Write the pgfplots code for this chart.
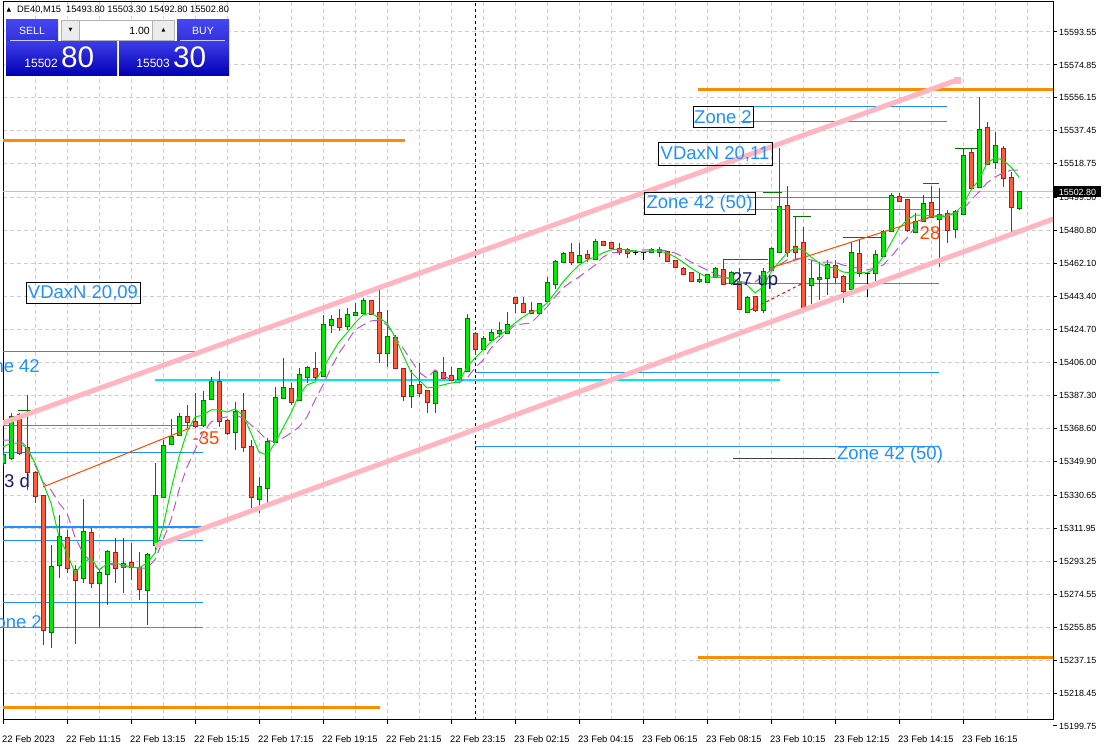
\documentclass[border=0pt]{standalone}
\usepackage{pgfplots}
\pgfplotsset{compat=1.18}
\usepackage{pgfplotstable}
\usepackage{fontspec}
\setmainfont{Liberation Sans}
\newfontfamily\dejavu{DejaVu Sans}
\definecolor{bullbody}{RGB}{0,235,0}
\definecolor{bulledge}{RGB}{0,120,0}
\definecolor{bearbody}{RGB}{255,90,60}
\definecolor{bearedge}{RGB}{170,30,30}
\definecolor{gridc}{RGB}{205,205,205}
\definecolor{zone}{RGB}{30,144,255}
\definecolor{orangeL}{RGB}{255,140,0}
\definecolor{pinkL}{RGB}{255,182,193}
\definecolor{maG}{RGB}{0,230,0}
\definecolor{maP}{RGB}{186,85,211}
\definecolor{navyT}{RGB}{25,25,112}
\definecolor{orT}{RGB}{255,69,0}
\definecolor{cyanL}{RGB}{0,230,240}
\definecolor{bidc}{RGB}{195,195,195}
\definecolor{panTop}{RGB}{70,70,240}
\definecolor{panBot}{RGB}{0,0,180}
\newcommand{\fs}{\fontsize{8.9}{10}\selectfont}
\newcommand{\fx}{\fontsize{9.4}{10}\selectfont}
\newcommand{\fb}{\fontsize{18.5}{20}\selectfont}

\pgfplotstableread{
i O H L C
0 15349.0 15356.4 15347.9 15353.5
1 15351.8 15377.4 15350.7 15375.1
2 15376.2 15377.4 15353.5 15354.7
3 15357.5 15387.6 15333.7 15343.9
4 15343.3 15344.5 15326.3 15330.3
5 15330.3 15330.8 15245.7 15254.2
6 15253.1 15302.5 15244.0 15290.0
7 15291.1 15319.5 15283.7 15307.0
8 15306.4 15311.0 15286.6 15289.4
9 15288.3 15291.1 15246.3 15282.6
10 15283.7 15328.6 15280.9 15309.8
11 15309.3 15312.1 15278.1 15280.9
12 15280.9 15288.9 15255.9 15286.6
13 15286.0 15299.6 15268.4 15298.5
14 15297.9 15306.4 15280.9 15289.4
15 15290.0 15306.4 15275.2 15291.7
16 15292.3 15303.6 15282.6 15290.0
17 15289.4 15298.5 15271.3 15277.5
18 15276.9 15297.9 15257.1 15296.8
19 15302.5 15349.0 15297.9 15330.3
20 15329.7 15362.0 15329.1 15358.6
21 15359.8 15374.0 15359.2 15363.8
22 15364.9 15377.4 15364.3 15375.1
23 15375.1 15381.9 15368.9 15372.3
24 15372.3 15388.7 15368.9 15370.0
25 15370.6 15389.8 15369.4 15384.2
26 15385.3 15397.8 15384.7 15395.0
27 15395.0 15401.2 15369.4 15372.8
28 15372.8 15374.0 15364.9 15366.0
29 15366.6 15383.6 15356.4 15377.9
30 15378.5 15388.7 15355.2 15358.1
31 15358.1 15362.0 15323.5 15329.7
32 15328.6 15341.1 15320.6 15335.4
33 15334.8 15363.2 15325.2 15360.9
34 15360.9 15392.1 15360.3 15385.9
35 15385.9 15408.6 15385.3 15391.6
36 15391.0 15394.4 15381.9 15383.6
37 15384.7 15402.9 15384.2 15398.9
38 15397.8 15404.0 15394.4 15402.9
39 15402.3 15412.0 15396.1 15397.8
40 15398.4 15433.0 15397.8 15427.3
41 15427.3 15433.0 15422.8 15430.1
42 15430.7 15436.4 15423.9 15426.2
43 15426.7 15436.9 15424.5 15433.0
44 15433.0 15439.8 15432.4 15434.1
45 15434.1 15442.6 15433.5 15440.9
46 15440.9 15441.5 15433.0 15433.5
47 15434.1 15449.4 15405.7 15411.4
48 15411.4 15435.8 15403.5 15420.5
49 15419.9 15421.6 15402.3 15402.9
50 15402.3 15402.9 15384.2 15387.0
51 15387.0 15401.8 15380.2 15392.7
52 15393.3 15405.7 15386.4 15388.7
53 15389.8 15390.4 15377.4 15383.6
54 15383.0 15401.8 15377.4 15400.6
55 15400.1 15409.1 15396.7 15397.2
56 15398.4 15403.5 15395.5 15396.1
57 15396.7 15402.9 15396.1 15402.3
58 15401.2 15433.5 15400.6 15430.7
59 15422.2 15423.3 15410.3 15413.7
60 15413.7 15421.1 15413.1 15419.4
61 15418.8 15425.0 15418.2 15422.8
62 15422.8 15429.0 15420.5 15423.9
63 15422.8 15434.7 15422.2 15427.3
64 15442.6 15443.2 15434.1 15439.8
65 15439.2 15443.2 15434.1 15434.7
66 15435.2 15440.4 15433.5 15434.1
67 15434.1 15439.8 15433.0 15439.2
68 15440.9 15454.5 15439.8 15451.1
69 15450.6 15464.2 15447.7 15463.0
70 15463.0 15468.7 15462.5 15467.6
71 15468.2 15473.8 15461.3 15463.0
72 15463.0 15473.8 15462.5 15466.5
73 15467.0 15469.9 15463.0 15465.3
74 15464.7 15476.1 15464.2 15474.4
75 15474.4 15475.0 15472.1 15472.7
76 15473.8 15474.4 15470.4 15471.0
77 15470.4 15473.8 15467.0 15468.7
78 15469.9 15471.0 15465.3 15468.2
79 15468.7 15469.9 15467.0 15468.6
80 15468.2 15468.4 15464.2 15468.1
81 15468.7 15471.0 15468.2 15469.9
82 15468.7 15471.6 15465.9 15469.9
83 15468.7 15469.3 15463.0 15463.6
84 15463.6 15464.2 15459.6 15460.2
85 15459.1 15460.2 15455.7 15456.2
86 15456.8 15457.4 15451.7 15452.3
87 15452.3 15456.8 15451.1 15452.8
88 15451.7 15456.2 15451.1 15455.7
89 15454.5 15460.2 15454.0 15459.1
90 15458.5 15464.2 15450.0 15450.6
91 15451.1 15457.9 15450.0 15456.8
92 15451.7 15459.6 15435.8 15436.4
93 15434.7 15443.8 15434.1 15442.6
94 15443.2 15443.8 15434.7 15435.8
95 15435.8 15459.6 15434.1 15457.4
96 15458.5 15471.6 15457.9 15470.4
97 15468.7 15527.7 15468.2 15494.3
98 15494.8 15506.2 15465.9 15468.7
99 15471.6 15488.6 15464.2 15468.7
100 15473.8 15482.9 15435.2 15435.8
101 15450.0 15464.2 15439.2 15453.4
102 15453.4 15463.0 15441.5 15454.0
103 15454.0 15464.2 15444.3 15461.3
104 15460.8 15464.2 15451.1 15454.5
105 15454.5 15455.7 15439.8 15446.6
106 15447.7 15474.4 15447.2 15468.2
107 15467.6 15475.5 15454.5 15456.8
108 15456.8 15457.4 15443.2 15456.7
109 15456.8 15469.9 15451.1 15467.0
110 15466.5 15481.2 15465.9 15480.1
111 15480.6 15502.2 15480.1 15500.5
112 15499.9 15502.2 15497.1 15497.7
113 15498.2 15498.8 15480.1 15481.2
114 15480.1 15490.9 15479.5 15485.7
115 15486.3 15501.1 15485.7 15496.0
116 15496.5 15506.2 15488.0 15488.6
117 15487.4 15505.0 15460.2 15489.7
118 15490.3 15492.6 15473.8 15481.2
119 15481.8 15492.6 15476.7 15491.4
120 15490.3 15527.7 15489.7 15523.2
121 15524.9 15527.7 15504.5 15505.0
122 15505.6 15556.7 15505.0 15537.9
123 15539.1 15542.5 15518.1 15518.7
124 15519.8 15536.8 15515.8 15528.9
125 15527.2 15528.9 15505.6 15510.7
126 15510.7 15514.1 15479.5 15494.3
127 15493.8 15503.3 15492.8 15502.8
}\candles

\pgfplotstableread{
i G P
0 15358.1 15362.0
1 15360.3 15362.0
2 15360.3 15362.0
3 15357.5 15358.1
4 15349.0 15347.9
5 15337.7 15338.2
6 15326.3 15333.7
7 15307.0 15326.3
8 15297.9 15320.6
9 15286.6 15307.0
10 15292.3 15297.9
11 15295.1 15292.8
12 15288.3 15288.3
13 15291.7 15291.7
14 15292.3 15291.1
15 15291.1 15290.0
16 15290.0 15290.0
17 15289.4 15289.4
18 15292.3 15289.4
19 15297.9 15294.0
20 15312.7 15305.3
21 15333.7 15316.7
22 15352.4 15333.7
23 15366.6 15346.7
24 15375.1 15356.4
25 15376.2 15366.0
26 15379.1 15372.3
27 15379.1 15374.5
28 15377.9 15375.1
29 15379.6 15376.2
30 15376.2 15374.5
31 15366.0 15370.6
32 15355.2 15366.6
33 15353.5 15362.0
34 15360.3 15360.9
35 15368.9 15363.2
36 15377.4 15366.0
37 15387.6 15369.4
38 15393.3 15375.1
39 15395.0 15384.7
40 15402.9 15393.3
41 15410.3 15402.9
42 15417.7 15411.4
43 15422.8 15417.7
44 15428.4 15424.5
45 15433.0 15427.3
46 15434.1 15429.6
47 15431.3 15430.1
48 15428.4 15427.3
49 15420.5 15420.5
50 15410.3 15414.2
51 15400.6 15407.4
52 15396.1 15400.6
53 15391.6 15397.2
54 15392.1 15401.8
55 15393.3 15398.9
56 15394.4 15396.1
57 15395.0 15394.4
58 15403.5 15397.2
59 15408.6 15402.9
60 15413.1 15407.4
61 15417.7 15414.2
62 15421.1 15418.8
63 15424.5 15423.3
64 15428.4 15427.3
65 15431.8 15427.9
66 15434.7 15428.4
67 15435.8 15433.0
68 15439.8 15437.5
69 15445.5 15443.2
70 15451.7 15448.3
71 15456.8 15451.7
72 15461.3 15454.5
73 15464.2 15457.9
74 15465.9 15461.3
75 15468.2 15465.9
76 15469.9 15468.2
77 15470.4 15468.7
78 15469.9 15468.7
79 15469.3 15469.3
80 15468.7 15469.9
81 15469.3 15469.9
82 15469.3 15469.9
83 15468.2 15469.3
84 15465.9 15468.2
85 15463.0 15465.9
86 15459.6 15463.0
87 15456.8 15460.8
88 15454.5 15458.5
89 15454.5 15456.2
90 15454.0 15454.5
91 15454.0 15453.4
92 15451.7 15452.3
93 15450.0 15451.1
94 15445.5 15451.7
95 15448.9 15455.1
96 15457.4 15458.5
97 15463.0 15461.3
98 15468.2 15464.2
99 15471.0 15464.7
100 15469.9 15465.3
101 15465.9 15464.2
102 15462.5 15463.0
103 15460.2 15463.0
104 15459.6 15463.0
105 15457.4 15461.3
106 15456.8 15460.2
107 15457.4 15459.6
108 15456.8 15458.5
109 15459.6 15459.6
110 15465.9 15461.3
111 15473.8 15465.9
112 15482.3 15471.6
113 15486.9 15476.7
114 15489.7 15482.9
115 15489.7 15486.9
116 15489.1 15488.6
117 15488.6 15489.7
118 15489.1 15489.7
119 15490.8 15490.8
120 15495.4 15492.6
121 15503.9 15498.2
122 15509.6 15502.8
123 15519.2 15507.9
124 15522.1 15511.3
125 15520.9 15513.5
126 15516.9 15515.2
127 15511.3 15515.2
}\mas

\begin{document}
\begin{tikzpicture}
\useasboundingbox (0,0) rectangle (1104pt,749pt);
\begin{axis}[
  at={(3pt,29pt)}, anchor=south west,
  width=1050pt, height=718pt, scale only axis,
  xmin=0, xmax=131.25, ymin=15203.17, ymax=15610.57,
  clip mode=individual,
  axis line style={black, line width=1pt},
  xtick={0,8,...,120},
  xticklabels={22 Feb 2023,22 Feb 11:15,22 Feb 13:15,22 Feb 15:15,22 Feb 17:15,22 Feb 19:15,22 Feb 21:15,22 Feb 23:15,23 Feb 02:15,23 Feb 04:15,23 Feb 06:15,23 Feb 08:15,23 Feb 10:15,23 Feb 12:15,23 Feb 14:15,23 Feb 16:15},
  minor xtick={4,12,...,124,128},
  ytick={15218.45,15237.15,15255.85,15274.55,15293.25,15311.95,15330.65,15349.90,15368.60,15387.30,15406.00,15424.70,15443.40,15462.10,15480.80,15499.50,15518.75,15537.45,15556.15,15574.85,15593.55},
  yticklabels={15218.45,15237.15,15255.85,15274.55,15293.25,15311.95,15330.65,15349.90,15368.60,15387.30,15406.00,15424.70,15443.40,15462.10,15480.80,15499.50,15518.75,15537.45,15556.15,15574.85,15593.55},
  xmajorgrids, xminorgrids, ymajorgrids,
  major grid style={gridc, line width=1pt, dash pattern=on 4pt off 3pt},
  minor grid style={gridc, line width=1pt, dash pattern=on 4pt off 3pt},
  xtick pos=left, ytick pos=right, yticklabel pos=right,
  tick align=outside, major tick length=4pt, minor tick length=0pt,
  tick style={black, line width=1pt},
  ticklabel style={font=\fs, inner sep=0pt, text=black},
  yticklabel style={anchor=west, xshift=2pt},
  xticklabel style={font=\fx, anchor=north west, xshift=-1pt, yshift=-11pt},
]
% bid line
\addplot[no marks, bidc, line width=1pt] coordinates {(-1,15502.8) (132,15502.8)};
% period separator
\addplot[no marks, black, line width=1pt, dash pattern=on 3pt off 3pt] coordinates {(59,15203.17) (59,15610.57)};
% orange levels
\addplot[no marks, orangeL, line width=3pt] coordinates {(-1,15531.7) (50.25,15531.7)};
\addplot[no marks, orangeL, line width=3pt] coordinates {(86.9,15561.2) (132,15561.2)};
\addplot[no marks, orangeL, line width=3pt] coordinates {(86.9,15238.9) (132,15238.9)};
\addplot[no marks, orangeL, line width=3pt] coordinates {(-1,15210.0) (47.1,15210.0)};
% zone lines left
\addplot[no marks, zone, line width=1pt] coordinates {(-1,15412.5) (25,15412.5)};
\addplot[no marks, zone, line width=1pt] coordinates {(-1,15370.0) (25,15370.0)};
\addplot[no marks, zone, line width=1pt] coordinates {(-1,15355.2) (25,15355.2)};
\addplot[no marks, zone, line width=2pt] coordinates {(-1,15312.7) (25,15312.7)};
\addplot[no marks, zone, line width=1pt] coordinates {(-1,15305.3) (25,15305.3)};
\addplot[no marks, zone, line width=1pt] coordinates {(-1,15270.1) (25,15270.1)};
\addplot[no marks, gray, line width=1pt] coordinates {(-1,15255.9) (25,15255.9)};
% cyan line
\addplot[no marks, cyanL, line width=2pt] coordinates {(19,15396.1) (97.1,15396.1)};
% middle zone lines
\addplot[no marks, zone, line width=1pt] coordinates {(59,15400.6) (117,15400.6)};
\addplot[no marks, zone, line width=1pt] coordinates {(59,15358.6) (117,15358.6)};
\addplot[no marks, darkgray, line width=1pt] coordinates {(91.25,15351.3) (104,15351.3)};
% right zone lines
\addplot[no marks, zone, line width=1pt] coordinates {(92.2,15551.0) (118,15551.0)};
\addplot[no marks, zone, line width=1pt] coordinates {(92.2,15542.5) (118,15542.5)};
\addplot[no marks, zone, line width=1pt] coordinates {(93,15499.9) (117.1,15499.9)};
\addplot[no marks, zone, line width=1pt] coordinates {(93,15492.6) (117.1,15492.6)};
\addplot[no marks, zone, line width=1pt] coordinates {(90,15451.1) (117,15451.1)};
% small green levels
\addplot[no marks, bulledge, line width=1pt] coordinates {(90,15464.2) (95.6,15464.2)};
\addplot[no marks, bulledge, line width=1pt] coordinates {(1.9,15378.5) (4,15378.5)};
\addplot[no marks, bulledge, line width=1pt] coordinates {(95,15502.2) (97.4,15502.2)};
\addplot[no marks, bulledge, line width=1pt] coordinates {(98.75,15488.6) (101,15488.6)};
\addplot[no marks, bulledge, line width=1pt] coordinates {(105,15477.2) (110,15477.2)};
\addplot[no marks, bulledge, line width=1pt] coordinates {(115,15507.3) (117,15507.3)};
\addplot[no marks, bulledge, line width=1pt] coordinates {(119,15527.7) (122,15527.7)};
% candles: wicks
\addplot[draw=none, no markers, restrict expr to domain={\thisrow{C}-\thisrow{O}}{0.2:1000},
  error bars/.cd, y dir=plus, y explicit, error mark=none, error bar style={line width=1pt, draw=bulledge}]
  table[x=i, y=L, y error expr=\thisrow{H}-\thisrow{L}] {\candles};
\addplot[draw=none, no markers, restrict expr to domain={\thisrow{C}-\thisrow{O}}{-1000:-0.2},
  error bars/.cd, y dir=plus, y explicit, error mark=none, error bar style={line width=1pt, draw=bearedge}]
  table[x=i, y=L, y error expr=\thisrow{H}-\thisrow{L}] {\candles};
\addplot[draw=none, no markers, restrict expr to domain={\thisrow{C}-\thisrow{O}}{-0.2:0.2},
  error bars/.cd, y dir=plus, y explicit, error mark=none, error bar style={line width=1pt, draw=black}]
  table[x=i, y=L, y error expr=\thisrow{H}-\thisrow{L}] {\candles};
% bodies outline
\addplot[draw=none, no markers, restrict expr to domain={\thisrow{C}-\thisrow{O}}{0.2:1000},
  error bars/.cd, y dir=plus, y explicit, error mark=none, error bar style={line width=5pt, draw=bulledge}]
  table[x=i, y expr={min(\thisrow{O},\thisrow{C})-0.6}, y error expr={abs(\thisrow{C}-\thisrow{O})+1.2}] {\candles};
\addplot[draw=none, no markers, restrict expr to domain={\thisrow{C}-\thisrow{O}}{-1000:-0.2},
  error bars/.cd, y dir=plus, y explicit, error mark=none, error bar style={line width=5pt, draw=bearedge}]
  table[x=i, y expr={min(\thisrow{O},\thisrow{C})-0.6}, y error expr={abs(\thisrow{C}-\thisrow{O})+1.2}] {\candles};
\addplot[draw=none, no markers, restrict expr to domain={\thisrow{C}-\thisrow{O}}{-0.2:0.2},
  error bars/.cd, y dir=plus, y explicit, error mark=none, error bar style={line width=5pt, draw=black}]
  table[x=i, y expr={min(\thisrow{O},\thisrow{C})-0.3}, y error expr={0.6}] {\candles};
% bodies fill
\addplot[draw=none, no markers, restrict expr to domain={\thisrow{C}-\thisrow{O}}{0.2:1000},
  error bars/.cd, y dir=plus, y explicit, error mark=none, error bar style={line width=3pt, draw=bullbody}]
  table[x=i, y expr={min(\thisrow{O},\thisrow{C})}, y error expr={abs(\thisrow{C}-\thisrow{O})}] {\candles};
\addplot[draw=none, no markers, restrict expr to domain={\thisrow{C}-\thisrow{O}}{-1000:-0.2},
  error bars/.cd, y dir=plus, y explicit, error mark=none, error bar style={line width=3pt, draw=bearbody}]
  table[x=i, y expr={min(\thisrow{O},\thisrow{C})}, y error expr={abs(\thisrow{C}-\thisrow{O})}] {\candles};
% moving averages
\addplot[no marks, maP, line width=1pt, dash pattern=on 10pt off 5pt] table[x=i, y=P] {\mas};
\addplot[no marks, maG, line width=1pt] table[x=i, y=G] {\mas};
% red trend lines
\addplot[no marks, orT, line width=1pt] coordinates {(5,15335.4) (23.4,15368.9)};
\addplot[no marks, orT, line width=1pt] coordinates {(95.9,15459.6) (116.25,15489.1)};
\addplot[no marks, red, line width=1pt, dash pattern=on 3pt off 3pt] coordinates {(93.4,15435.8) (100,15451.1)};
% channel
\addplot[no marks, pinkL, line width=5pt] coordinates {(-1,15370.1) (119.25,15566.3)};
\addplot[only marks, mark=square*, mark size=3pt, pinkL] coordinates {(119.25,15566.3)};
\addplot[no marks, pinkL, line width=5pt] coordinates {(19,15301.9) (132,15488.6)};
\end{axis}
\begin{scope}[x=1pt, y=-1pt, shift={(0pt,749pt)}]
% labels
\draw[black, line width=1pt] (693,107) rectangle (753,128);
\node[font=\fb, text=zone, inner sep=0pt] at (723,117.5) {Zone 2};
\draw[black, line width=1pt] (658,143) rectangle (772,166);
\node[font=\fb, text=zone, inner sep=0pt] at (715,154.5) {VDaxN 20,11};
\draw[black, line width=1pt] (644,193) rectangle (755,215);
\node[font=\fb, text=zone, inner sep=0pt] at (699.5,204) {Zone 42 (50)};
\draw[black, line width=1pt] (26,283) rectangle (140,304);
\node[font=\fb, text=zone, inner sep=0pt] at (83,293.5) {VDaxN 20,09};
\node[font=\fb, text=zone, inner sep=0pt, anchor=east] at (40,366) {Zone 42};
\node[font=\fb, text=zone, inner sep=0pt, anchor=east] at (42,622) {Zone 2};
\node[font=\fb, text=zone, inner sep=0pt] at (890,455) {Zone 42 (50)};
\node[font=\fb, text=navyT, inner sep=0pt] at (755,281) {27 up};
\node[font=\fb, text=navyT, inner sep=0pt, anchor=west] at (4,481) {3 d};
\node[font=\fb, text=orT, inner sep=0pt] at (206,438) {-35};
\node[font=\fb, text=orT, inner sep=0pt] at (930,233) {28};
% header
\node[font=\dejavu\fontsize{6}{7}\selectfont, inner sep=0pt] at (9,10) {▲};
\node[font=\fontsize{9.3}{10}\selectfont, inner sep=0pt, anchor=west] at (17,10) {DE40,M15\hspace{5pt}15493.80 15503.30 15492.80 15502.80};
% one click panel
\fill[white] (5,19) rectangle (230,77);
\shade[top color=panTop, bottom color=panTop!70!panBot] (6,20) rectangle (58,41);
\shade[top color=panTop, bottom color=panTop!70!panBot] (177,20) rectangle (229,41);
\fill[white] (60,20) rectangle (176,42);
\draw[gray!60] (61.5,20.5) rectangle (174.5,40.5);
\fill[gray!15] (62,21) rectangle (79,40);
\fill[gray!15] (153,21) rectangle (174,40);
\draw[gray!60] (79.5,20.5) -- (79.5,40.5) (152.5,20.5) -- (152.5,40.5);
\node[font=\dejavu\fontsize{5}{6}\selectfont, inner sep=0pt] at (70.5,30.5) {▼};
\node[font=\dejavu\fontsize{5}{6}\selectfont, inner sep=0pt] at (163.5,30.5) {▲};
\node[font=\fontsize{10.5}{11}\selectfont, inner sep=0pt, anchor=east] at (150,30.5) {1.00};
\node[font=\fontsize{10.5}{11}\selectfont, text=white, inner sep=0pt] at (32,30.5) {SELL};
\node[font=\fontsize{10.5}{11}\selectfont, text=white, inner sep=0pt] at (203,30.5) {BUY};
\draw[white!80!blue, line width=1pt] (10,41) -- (55,41) (180,41) -- (225,41);
\shade[top color=panTop!85!panBot, bottom color=panBot] (6,42) rectangle (117,76);
\shade[top color=panTop!85!panBot, bottom color=panBot] (119,42) rectangle (229,76);
\node[font=\fontsize{12}{13}\selectfont, text=white, inner sep=0pt, anchor=base east] at (58,68) {15502};
\node[font=\fontsize{29.7}{31}\selectfont, text=white, inner sep=0pt, anchor=base west] at (61,68) {80};
\node[font=\fontsize{12}{13}\selectfont, text=white, inner sep=0pt, anchor=base east] at (170,68) {15503};
\node[font=\fontsize{29.7}{31}\selectfont, text=white, inner sep=0pt, anchor=base west] at (173,68) {30};
% price box and bottom label
\fill[black] (1054,186.5) rectangle (1101,197.5);
\node[font=\fs, text=white, inner sep=0pt] at (1077.5,192) {15502.80};
\draw[black, line width=1pt] (1053,726) -- (1057,726);
\node[font=\fs, inner sep=0pt, anchor=west] at (1059,726) {15199.75};
\end{scope}
\end{tikzpicture}
\end{document}
